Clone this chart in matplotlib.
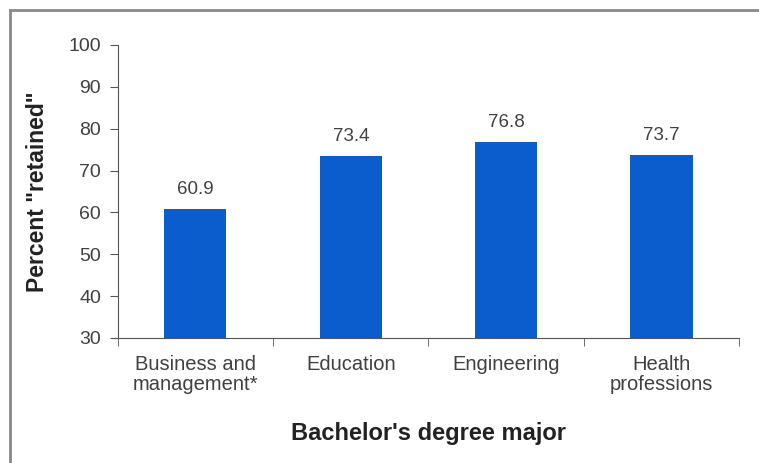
import matplotlib.pyplot as plt
from matplotlib.patches import Rectangle

# data
majors = ["Business and\nmanagement*", "Education", "Engineering", "Health\nprofessions"]
retained = [60.9, 73.4, 76.8, 73.7]
yticks = [30, 40, 50, 60, 70, 80, 90, 100]

plt.rcParams['font.family'] = ['Liberation Sans', 'DejaVu Sans']
txt = '#404040'

fig = plt.figure(figsize=(7.59, 4.63), dpi=100)
ax = fig.add_axes([0.155, 0.270, 0.819, 0.633])

x = range(len(majors))
ax.bar(x, retained, width=0.4, color='#0b5ccd')
for xi, v in zip(x, retained):
    ax.annotate(f"{v}", (xi, v), xytext=(0, 8), textcoords='offset points',
                ha='center', va='bottom', fontsize=13.5, color=txt)

ax.set_ylim(30, 100)
ax.set_xlim(-0.5, len(majors) - 0.5)
ax.set_yticks(yticks)
ax.set_xticks(list(x))
ax.set_xticklabels(majors, fontsize=14.5, color=txt, linespacing=1.1)
ax.tick_params(axis='x', length=0, pad=12)
ax.set_xticks([i - 0.5 for i in range(len(majors) + 1)], minor=True)
ax.tick_params(axis='x', which='minor', length=6, color='#555555', direction='out')
ax.tick_params(axis='y', labelsize=14, labelcolor=txt, length=6, color='#555555', pad=6)

for s in ['top', 'right']:
    ax.spines[s].set_visible(False)
for s in ['left', 'bottom']:
    ax.spines[s].set_color('#555555')

ax.set_ylabel('Percent "retained"', fontsize=16.5, fontweight='bold', color='#222222', labelpad=14)
ax.set_xlabel("Bachelor's degree major", fontsize=17, fontweight='bold', color='#222222', labelpad=20)

# outer frame of the original picture
fig.patches.append(Rectangle((10 / 759, -0.05), 1.2, 1 - 10 / 463 + 0.05,
                             transform=fig.transFigure, fill=False,
                             edgecolor='#888888', linewidth=2))

fig.savefig('out.png', dpi=100)
